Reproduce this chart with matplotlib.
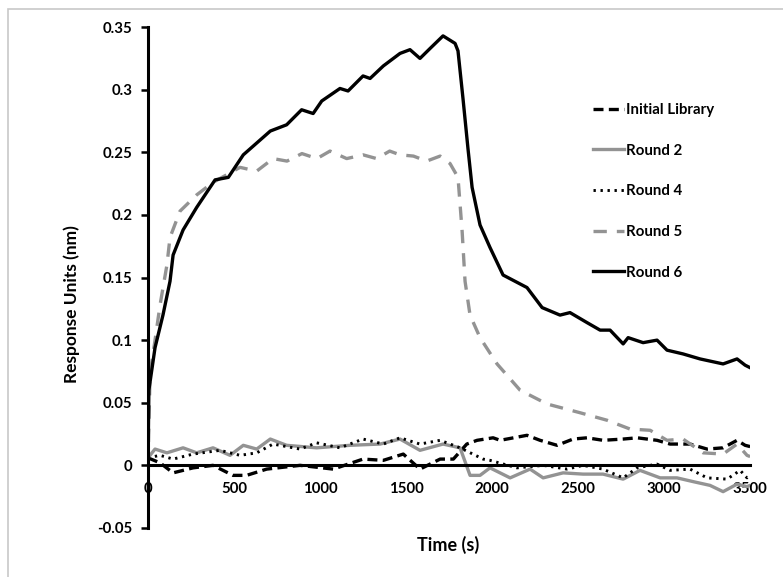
import numpy as np
import matplotlib
matplotlib.use('Agg')
from matplotlib import pyplot as plt
from matplotlib.patches import Rectangle

plt.rcParams['font.family'] = ['Lato', 'DejaVu Sans']
plt.rcParams['font.weight'] = 'bold'

# Dados
t_lib = [0, 70, 146, 262, 378, 494, 573, 690, 884, 1077, 1250, 1368, 1484, 1581, 1698, 1775, 1853,
         1913, 2006, 2047, 2203, 2279, 2378, 2471, 2552, 2645, 2762, 2843, 2959, 3035, 3151, 3250,
         3343, 3424, 3471, 3500]
y_lib = [0.006, 0.002, -0.006, -0.002, 0.000, -0.008, -0.008, -0.003, 0.000, -0.003, 0.005, 0.004,
         0.009, -0.003, 0.005, 0.005, 0.017, 0.020, 0.022, 0.020, 0.024, 0.020, 0.016, 0.021, 0.022,
         0.020, 0.021, 0.022, 0.020, 0.017, 0.017, 0.013, 0.014, 0.020, 0.016, 0.015]

t_r2 = [0, 41, 110, 204, 283, 378, 477, 554, 632, 711, 806, 980, 1174, 1349, 1465, 1581, 1715, 1814,
        1872, 1930, 1988, 2105, 2221, 2297, 2413, 2529, 2645, 2762, 2860, 2977, 3075, 3169, 3267,
        3343, 3424, 3482, 3500]
y_r2 = [0.006, 0.013, 0.010, 0.014, 0.010, 0.014, 0.008, 0.016, 0.013, 0.021, 0.016, 0.014, 0.016,
        0.017, 0.021, 0.012, 0.017, 0.014, -0.008, -0.008, -0.002, -0.010, -0.003, -0.010, -0.006,
        -0.007, -0.007, -0.011, -0.004, -0.010, -0.010, -0.013, -0.016, -0.021, -0.015, -0.017,
        -0.016]

t_r4 = [0, 70, 146, 262, 419, 535, 632, 727, 884, 980, 1116, 1250, 1368, 1465, 1581, 1698, 1814,
        1948, 1988, 2145, 2297, 2436, 2529, 2645, 2762, 2843, 2959, 3035, 3151, 3250, 3366, 3442,
        3482, 3500]
y_r4 = [0.006, 0.008, 0.005, 0.009, 0.012, 0.008, 0.010, 0.017, 0.013, 0.018, 0.014, 0.021, 0.017,
        0.022, 0.017, 0.020, 0.014, 0.005, 0.004, -0.002, 0.000, -0.003, 0.000, -0.003, -0.010,
        -0.002, 0.001, -0.004, -0.003, -0.010, -0.011, -0.004, -0.010, -0.008]

t_r5 = [0, 12, 41, 70, 110, 128, 186, 283, 378, 535, 632, 727, 808, 895, 982, 1058, 1155, 1250,
        1329, 1405, 1465, 1543, 1620, 1698, 1756, 1802, 1826, 1843, 1872, 1930, 2029, 2163, 2320,
        2512, 2669, 2802, 2919, 3017, 3110, 3227, 3343, 3424, 3482, 3500]
y_r5 = [0.0, 0.073, 0.100, 0.128, 0.160, 0.182, 0.203, 0.216, 0.226, 0.238, 0.235, 0.245, 0.243,
        0.249, 0.245, 0.251, 0.245, 0.248, 0.245, 0.251, 0.248, 0.247, 0.243, 0.247, 0.241, 0.230,
        0.187, 0.147, 0.120, 0.102, 0.081, 0.060, 0.049, 0.042, 0.036, 0.029, 0.028, 0.020, 0.021,
        0.010, 0.009, 0.017, 0.008, 0.007]

t_r6 = [0, 5, 41, 87, 128, 146, 204, 283, 390, 467, 554, 711, 806, 893, 960, 1010, 1116, 1163, 1250,
        1291, 1368, 1465, 1523, 1581, 1640, 1715, 1785, 1802, 1831, 1860, 1884, 1930, 1988, 2064,
        2203, 2291, 2395, 2453, 2552, 2628, 2686, 2762, 2791, 2878, 2959, 3017, 3110, 3209, 3343,
        3424, 3471, 3500]
y_r6 = [0.0, 0.060, 0.094, 0.120, 0.147, 0.168, 0.188, 0.206, 0.228, 0.230, 0.248, 0.267, 0.272,
        0.284, 0.281, 0.291, 0.301, 0.299, 0.311, 0.309, 0.319, 0.329, 0.332, 0.325, 0.333, 0.343,
        0.337, 0.331, 0.293, 0.253, 0.222, 0.192, 0.174, 0.152, 0.142, 0.126, 0.120, 0.122, 0.114,
        0.108, 0.108, 0.097, 0.102, 0.098, 0.100, 0.092, 0.089, 0.085, 0.081, 0.085, 0.080, 0.078]

series = ['Initial Library', 'Round 2', 'Round 4', 'Round 5', 'Round 6']
xticks = [0, 500, 1000, 1500, 2000, 2500, 3000, 3500]
yticks = [-0.05, 0, 0.05, 0.1, 0.15, 0.2, 0.25, 0.3, 0.35]
ytick_labels = ['-0.05', '0', '0.05', '0.1', '0.15', '0.2', '0.25', '0.3', '0.35']

cinza = '#939393'

fig = plt.figure(figsize=(7.83, 5.77), dpi=100)
ax = fig.add_axes([0.189, 0.085, 0.769, 0.868])

ax.plot(t_lib, y_lib, color='black', lw=2.4, ls=(0, (3, 1.6)), label=series[0])
ax.plot(t_r2, y_r2, color=cinza, lw=2.4, ls='-', label=series[1])
ax.plot(t_r4, y_r4, color='black', lw=2.1, ls=(0, (0.8, 1.6)), label=series[2])
ax.plot(t_r5, y_r5, color=cinza, lw=2.4, ls=(0, (4, 3)), label=series[3])
ax.plot(t_r6, y_r6, color='black', lw=2.4, ls='-', label=series[4])

ax.set_xlim(0, 3500)
ax.set_ylim(-0.05, 0.35)
ax.spines['top'].set_visible(False)
ax.spines['right'].set_visible(False)
ax.spines['left'].set_position(('data', 0))
ax.spines['bottom'].set_position(('data', 0))
ax.spines['left'].set_linewidth(2.2)
ax.spines['bottom'].set_linewidth(2.2)

ax.set_xticks(xticks)
ax.set_yticks(yticks)
ax.set_yticklabels(ytick_labels)
ax.tick_params(axis='x', length=0, pad=12, labelsize=10.8)
ax.tick_params(axis='y', length=5, width=1.8, pad=6, labelsize=10.8)

fig.text(0.092, 0.473, 'Response Units (nm)', rotation=90, ha='center', va='center',
         fontsize=12.5, fontweight='bold')
fig.text(0.572, 0.055, 'Time (s)', ha='center', va='center', fontsize=13, fontweight='bold')

ax.legend(loc='upper left', bbox_to_anchor=(0.74, 0.845), bbox_transform=fig.transFigure,
          frameon=False, fontsize=10.8, labelspacing=1.78, handlelength=2.1, handletextpad=0.1)

# moldura cinza do grafico
fig.patches.append(Rectangle((8 / 783, -0.1), 1.2, 1 - 9 / 577 + 0.1, transform=fig.transFigure,
                             fill=False, edgecolor='#c8c8c8', lw=1.2))

plt.savefig('out.png', dpi=100)
